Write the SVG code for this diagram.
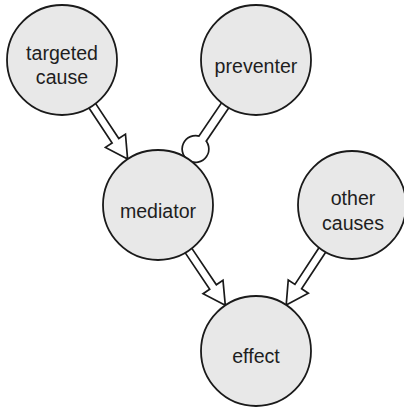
<svg xmlns="http://www.w3.org/2000/svg" width="404" height="408" viewBox="0 0 404 408">
<style>
.node circle{fill:#e8e8e8;stroke:#1a1a1a;stroke-width:1.8}
.node text{font-family:"Liberation Sans",Arial,sans-serif;font-size:19.6px;fill:#1e1e1e;text-anchor:middle}
.arrow{fill:#fff;stroke:#1a1a1a;stroke-width:1.7;stroke-linejoin:miter}
.lolo{fill:none;stroke:#1a1a1a;stroke-width:3.4}
.loli{fill:#fff;stroke:none}
</style>
<rect width="404" height="408" fill="#fff"/>
<g id="connectors">
  <polygon class="arrow" transform="translate(127.6,159.1) rotate(56.5)" points="-69,-4 -22,-4 -22,-12 0,0 -22,12 -22,4 -69,4"/>
  <polygon class="arrow" transform="translate(225.3,305.3) rotate(56.1)" points="-71,-4 -22,-4 -22,-12 0,0 -22,12 -22,4 -71,4"/>
  <polygon class="arrow" transform="translate(286.2,305) rotate(123.3)" points="-70,-4 -22,-4 -22,-12 0,0 -22,12 -22,4 -70,4"/>
  <g transform="translate(195.5,149) rotate(-55.8)">
    <rect class="lolo" x="0" y="-3.6" width="58" height="7.2"/>
    <circle class="lolo" cx="0" cy="0" r="12.5"/>
    <rect class="loli" x="0" y="-3.6" width="58" height="7.2"/>
    <circle class="loli" cx="0" cy="0" r="12.5"/>
  </g>
</g>
<g id="targeted-cause" class="node">
  <circle cx="62" cy="60" r="55"/>
  <text x="62" y="60">targeted</text>
  <text x="62" y="84">cause</text>
</g>
<g id="preventer" class="node">
  <circle cx="256" cy="60" r="55"/>
  <text x="256" y="73">preventer</text>
</g>
<g id="mediator" class="node">
  <circle cx="158" cy="205" r="55"/>
  <text x="158" y="218">mediator</text>
</g>
<g id="other-causes" class="node">
  <circle cx="352" cy="205" r="54"/>
  <text x="353" y="205">other</text>
  <text x="353" y="230">causes</text>
</g>
<g id="effect" class="node">
  <circle cx="256" cy="351" r="55"/>
  <text x="256" y="363">effect</text>
</g>
</svg>
